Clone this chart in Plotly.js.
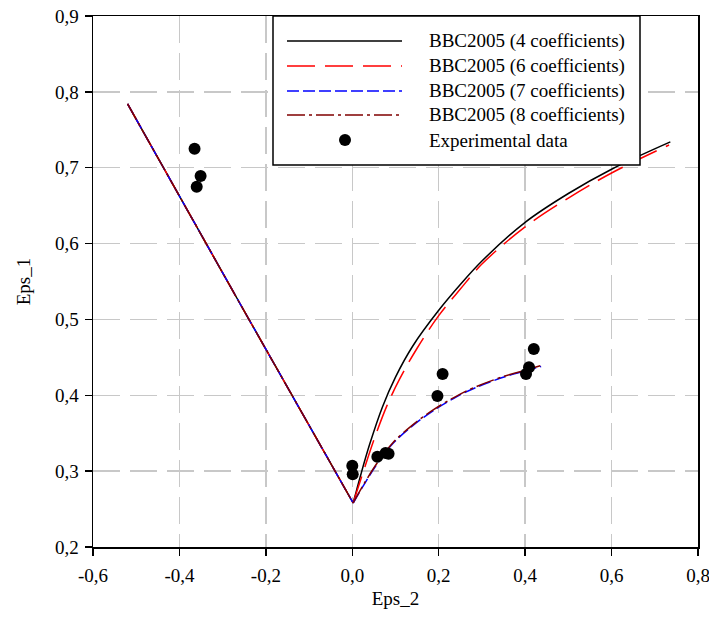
<!DOCTYPE html>
<html>
<head>
<meta charset="utf-8">
<script src="https://cdn.plot.ly/plotly-3.0.1.min.js"></script>
<style>html,body{margin:0;padding:0;background:#fff;}#chart{width:709px;height:629px;}</style>
</head>
<body>
<div id="chart"></div>
<script>
// ---- data ----
var seriesNames = ['BBC2005 (4 coefficients)', 'BBC2005 (6 coefficients)', 'BBC2005 (7 coefficients)', 'BBC2005 (8 coefficients)', 'Experimental data'];

// common left (negative Eps_2) branch
var leftX = [-0.52, -0.26, 0.002];
var leftY = [0.784, 0.521, 0.258];

var coef4X = [0.002, 0.010, 0.020, 0.040, 0.070, 0.100, 0.140, 0.200, 0.250, 0.300, 0.400, 0.500, 0.600, 0.736];
var coef4Y = [0.258, 0.275, 0.296, 0.335, 0.385, 0.424, 0.465, 0.512, 0.546, 0.577, 0.628, 0.666, 0.698, 0.734];

var coef6X = [0.002, 0.015, 0.030, 0.050, 0.080, 0.110, 0.150, 0.200, 0.250, 0.300, 0.400, 0.500, 0.600, 0.733];
var coef6Y = [0.258, 0.281, 0.307, 0.341, 0.386, 0.422, 0.462, 0.505, 0.540, 0.573, 0.622, 0.660, 0.693, 0.730];

var coef7X = [0.002, 0.030, 0.058, 0.095, 0.142, 0.188, 0.235, 0.281, 0.351, 0.406, 0.437];
var coef7Y = [0.258, 0.285, 0.310, 0.337, 0.361, 0.380, 0.396, 0.409, 0.424, 0.433, 0.438];

var coef8X = [0.002, 0.030, 0.058, 0.095, 0.142, 0.188, 0.235, 0.281, 0.351, 0.406, 0.435];
var coef8Y = [0.258, 0.286, 0.311, 0.338, 0.362, 0.381, 0.397, 0.410, 0.425, 0.434, 0.439];

var expX = [-0.365, -0.351, -0.360, 0.000, 0.001, 0.058, 0.077, 0.084, 0.197, 0.209, 0.402, 0.409, 0.420];
var expY = [0.725, 0.689, 0.675, 0.307, 0.296, 0.319, 0.324, 0.323, 0.399, 0.428, 0.428, 0.437, 0.461];

var xTickVals = [-0.6, -0.4, -0.2, 0.0, 0.2, 0.4, 0.6, 0.8];
var xTickText = ['-0,6', '-0,4', '-0,2', '0,0', '0,2', '0,4', '0,6', '0,8'];
var yTickVals = [0.2, 0.3, 0.4, 0.5, 0.6, 0.7, 0.8, 0.9];
var yTickText = ['0,2', '0,3', '0,4', '0,5', '0,6', '0,7', '0,8', '0,9'];

// ---- styling ----
var FONT = 'Liberation Serif, Times New Roman, serif';
var W = 709, H = 629, ML = 93, MR = 11, MT = 16, MB = 82;
var PW = W - ML - MR, PH = H - MT - MB;
function px(x) { return (x - ML) / PW; }
function py(y) { return (H - MB - y) / PH; }

var styles = [
  {color: '#000000', dash: 'solid', width: 1.5},
  {color: '#ff0000', dash: '28px,10px', width: 1.5},
  {color: '#0000ff', dash: '12px,4px', width: 1.5},
  {color: '#800000', dash: '18px,4px,3px,4px', width: 1.5}
];
var curvesX = [coef4X, coef6X, coef7X, coef8X];
var curvesY = [coef4Y, coef6Y, coef7Y, coef8Y];

var traces = [];
for (var i = 0; i < 4; i++) {
  var ln = {color: styles[i].color, dash: styles[i].dash, width: styles[i].width};
  traces.push({
    type: 'scatter', mode: 'lines', name: seriesNames[i], showlegend: false,
    x: leftX, y: leftY, line: ln
  });
  traces.push({
    type: 'scatter', mode: 'lines', name: seriesNames[i], showlegend: false,
    x: curvesX[i], y: curvesY[i],
    line: Object.assign({}, ln, {shape: 'spline', smoothing: 1})
  });
}
traces.push({
  type: 'scatter', mode: 'markers', name: seriesNames[4], showlegend: false,
  x: expX, y: expY, marker: {color: '#000000', size: 12}
});

// manual legend (box, samples, labels)
var legRows = [41, 66, 91, 115, 140];
var shapes = [{
  type: 'rect', xref: 'paper', yref: 'paper', layer: 'above',
  x0: px(273), x1: px(640), y0: py(165), y1: py(16),
  fillcolor: '#ffffff', line: {color: '#000000', width: 1.5}
}];
var annotations = [];
for (var j = 0; j < 5; j++) {
  if (j < 4) {
    shapes.push({
      type: 'line', xref: 'paper', yref: 'paper', layer: 'above',
      x0: px(287), x1: px(402), y0: py(legRows[j]), y1: py(legRows[j]),
      line: {color: styles[j].color, dash: styles[j].dash, width: styles[j].width}
    });
  } else {
    shapes.push({
      type: 'circle', xref: 'paper', yref: 'paper', layer: 'above',
      xsizemode: 'pixel', ysizemode: 'pixel', xanchor: px(345), yanchor: py(legRows[j]),
      x0: -6, x1: 6, y0: -6, y1: 6,
      fillcolor: '#000000', line: {color: '#000000', width: 0}
    });
  }
  annotations.push({
    xref: 'paper', yref: 'paper', x: px(427), y: py(legRows[j]),
    xanchor: 'left', yanchor: 'middle', showarrow: false,
    text: seriesNames[j], font: {family: FONT, size: 19, color: '#000000'}
  });
}

var axisCommon = {
  showline: true, linecolor: '#000000', linewidth: 1.5, mirror: true,
  ticks: 'outside', ticklen: 7, tickwidth: 1.5, tickcolor: '#000000',
  showgrid: true, gridcolor: '#c8c8c8', gridwidth: 1.5, griddash: '27px,10px',
  zeroline: false, tickmode: 'array', ticklabeloverflow: 'allow',
  tickfont: {family: FONT, size: 19, color: '#000000'}
};

var layout = {
  width: W, height: H,
  margin: {l: ML, r: MR, t: MT, b: MB},
  paper_bgcolor: '#ffffff', plot_bgcolor: '#ffffff',
  showlegend: false,
  xaxis: Object.assign({}, axisCommon, {
    range: [-0.6, 0.8], tickvals: xTickVals, ticktext: xTickText,
    ticklabelstandoff: 4,
    title: {text: 'Eps_2', font: {family: FONT, size: 19, color: '#000000'}, standoff: 6}
  }),
  yaxis: Object.assign({}, axisCommon, {
    range: [0.2, 0.9], tickvals: yTickVals, ticktext: yTickText,
    ticklabelstandoff: 2,
    title: {text: 'Eps_1', font: {family: FONT, size: 19, color: '#000000'}, standoff: 19}
  }),
  shapes: shapes,
  annotations: annotations
};

Plotly.newPlot('chart', traces, layout, {displayModeBar: false, staticPlot: true});
</script>
</body>
</html>
